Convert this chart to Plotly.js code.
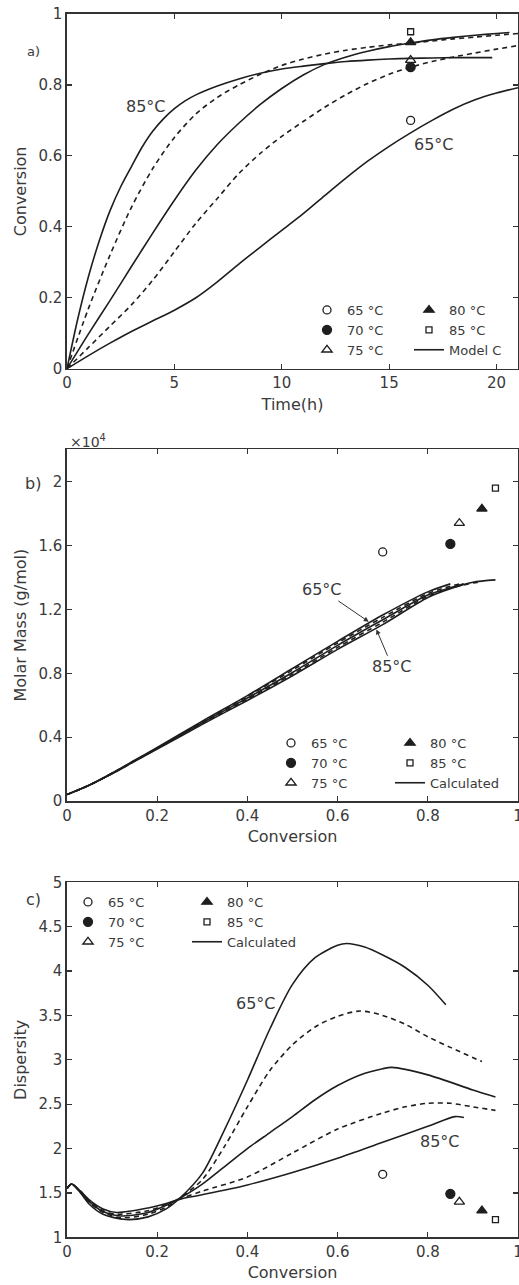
<!DOCTYPE html>
<html>
<head>
<meta charset="utf-8">
<script src="https://cdn.plot.ly/plotly-3.0.1.min.js"></script>
<style>html,body{margin:0;padding:0;background:#fff;}#chart{width:519px;height:1285px;}</style>
</head>
<body>
<div id="chart"></div>
<script>
// ---------- DATA ----------
const temps = ['65 °C', '70 °C', '75 °C', '80 °C', '85 °C'];
const curveTemps = ['65', '70', '75', '80', '85'];

// Panel a: conversion vs time (model C)
const a65_t = [0,1,2,3,4,5,6,7,8,9,10,11,12,13,14,15,16,17,18,19,20,21];
const a65_c = [0,0.037,0.072,0.105,0.135,0.165,0.2,0.245,0.295,0.343,0.39,0.437,0.488,0.538,0.585,0.627,0.665,0.70,0.732,0.758,0.777,0.792];
const a70_t = [0,1,2,3,4,5,6,7,8,9,10,11,12,13,14,15,16,17,18,19,20,21];
const a70_c = [0,0.06,0.12,0.18,0.25,0.33,0.41,0.48,0.55,0.607,0.655,0.697,0.737,0.773,0.804,0.83,0.85,0.866,0.879,0.89,0.901,0.911];
const a75_t = [0,1,2,3,4,5,6,7,8,9,10,11,12,13,14,15,16,17,18,19,20,20.6];
const a75_c = [0,0.098,0.192,0.288,0.383,0.475,0.56,0.632,0.692,0.745,0.79,0.828,0.858,0.879,0.895,0.908,0.918,0.927,0.934,0.94,0.945,0.948];
const a80_t = [0,1,2,3,4,5,6,7,8,9,10,11,12,13,14,15,16,17,18,19,20,21];
const a80_c = [0,0.17,0.32,0.455,0.565,0.652,0.718,0.765,0.80,0.83,0.855,0.873,0.887,0.898,0.906,0.913,0.918,0.924,0.93,0.935,0.94,0.945];
const a85_t = [0,0.5,1,1.5,2,2.5,3,3.5,4,4.5,5,5.5,6,7,8,9,10,11,12,13,14,15,16,17,18,19.8];
const a85_c = [0,0.14,0.26,0.36,0.445,0.513,0.57,0.625,0.67,0.705,0.733,0.755,0.772,0.797,0.817,0.833,0.845,0.853,0.86,0.866,0.87,0.873,0.875,0.876,0.877,0.877];

// Experimental points
const exp_time = [16, 16, 16, 16, 16];
const exp_conv = [0.70, 0.85, 0.87, 0.92, 0.95];
const exp_mm = [1.56, 1.61, 1.74, 1.83, 1.96];      // ×10^4 g/mol
const exp_disp = [1.71, 1.49, 1.40, 1.30, 1.20];

// Panel b: molar mass (×10^4) vs conversion
const b65_x = [0,0.05,0.1,0.15,0.2,0.3,0.4,0.5,0.6,0.7,0.8,0.85];
const b65_m = [0.04,0.1,0.175,0.255,0.335,0.5,0.66,0.83,1.0,1.165,1.31,1.36];
const b70_x = [0,0.05,0.1,0.15,0.2,0.3,0.4,0.5,0.6,0.7,0.8,0.85,0.87];
const b70_m = [0.04,0.1,0.174,0.253,0.332,0.495,0.655,0.82,0.99,1.15,1.30,1.345,1.36];
const b75_x = [0,0.05,0.1,0.15,0.2,0.3,0.4,0.5,0.6,0.7,0.8,0.85,0.88];
const b75_m = [0.04,0.1,0.173,0.251,0.33,0.49,0.645,0.805,0.975,1.135,1.29,1.335,1.36];
const b80_x = [0,0.05,0.1,0.15,0.2,0.3,0.4,0.5,0.6,0.7,0.8,0.85,0.9,0.92];
const b80_m = [0.04,0.1,0.172,0.25,0.328,0.485,0.638,0.795,0.962,1.12,1.282,1.332,1.365,1.372];
const b85_x = [0,0.05,0.1,0.15,0.2,0.3,0.4,0.5,0.6,0.7,0.8,0.85,0.9,0.95];
const b85_m = [0.04,0.1,0.17,0.248,0.325,0.48,0.63,0.785,0.95,1.105,1.275,1.33,1.37,1.385];

// Panel c: dispersity vs conversion
const c65_x = [0,0.01,0.03,0.05,0.08,0.13,0.18,0.22,0.25,0.3,0.35,0.4,0.45,0.5,0.55,0.6,0.62,0.66,0.7,0.75,0.8,0.84];
const c65_d = [1.55,1.6,1.5,1.37,1.26,1.2,1.23,1.32,1.44,1.72,2.22,2.77,3.35,3.85,4.15,4.29,4.31,4.27,4.18,4.04,3.84,3.62];
const c70_x = [0,0.01,0.03,0.05,0.08,0.12,0.18,0.22,0.25,0.3,0.35,0.4,0.45,0.5,0.55,0.6,0.65,0.7,0.75,0.8,0.85,0.92];
const c70_d = [1.55,1.6,1.51,1.39,1.28,1.22,1.26,1.34,1.44,1.65,2.03,2.47,2.88,3.17,3.37,3.49,3.55,3.50,3.40,3.26,3.14,2.98];
const c75_x = [0,0.01,0.03,0.05,0.08,0.12,0.18,0.22,0.25,0.3,0.35,0.4,0.45,0.5,0.55,0.6,0.65,0.7,0.72,0.8,0.9,0.95];
const c75_d = [1.55,1.6,1.51,1.4,1.29,1.24,1.28,1.36,1.44,1.6,1.8,2.0,2.18,2.36,2.55,2.71,2.83,2.9,2.915,2.83,2.66,2.58];
const c80_x = [0,0.01,0.03,0.05,0.08,0.11,0.18,0.22,0.25,0.3,0.4,0.5,0.6,0.7,0.75,0.8,0.85,0.9,0.95];
const c80_d = [1.55,1.6,1.52,1.41,1.3,1.26,1.3,1.37,1.43,1.52,1.68,1.95,2.22,2.40,2.47,2.51,2.51,2.47,2.43];
const c85_x = [0,0.01,0.03,0.05,0.08,0.11,0.18,0.22,0.25,0.3,0.4,0.5,0.6,0.7,0.8,0.86,0.88];
const c85_d = [1.55,1.6,1.52,1.42,1.32,1.28,1.33,1.38,1.43,1.48,1.59,1.73,1.89,2.07,2.25,2.36,2.35];

// ---------- STYLE ----------
const INK = '#1e1e1e';
const TXT = '#3a3a3a';
const FONT = 'DejaVu Sans, sans-serif';
const dashes = ['solid', '5px,4px', 'solid', '5px,4px', 'solid'];
const symbols = ['circle-open', 'circle', 'triangle-up-open', 'triangle-up', 'square-open'];
const msizes = [8, 9, 9, 9, 6];

const traces = [];
function curves(xs, ys, xa, ya, legendName, lineLabel) {
  for (let i = 0; i < 5; i++) {
    traces.push({
      x: xs[i], y: ys[i], xaxis: xa, yaxis: ya, type: 'scatter', mode: 'lines',
      line: {color: INK, width: 1.6, dash: dashes[i], shape: 'spline', smoothing: 0.8},
      name: curveTemps[i], showlegend: false, hoverinfo: 'skip'
    });
  }
  return {x: [null], y: [null], xaxis: xa, yaxis: ya, type: 'scatter', mode: 'lines',
    line: {color: INK, width: 1.6}, name: lineLabel, legend: legendName, showlegend: true};
}
function points(xv, yv, xa, ya, leg1, leg2, lineTrace) {
  for (let i = 0; i < 5; i++) {
    traces.push({
      x: [xv[i]], y: [yv[i]], xaxis: xa, yaxis: ya, type: 'scatter', mode: 'markers',
      marker: {symbol: symbols[i], size: msizes[i], color: INK, line: {color: INK, width: 1.3}},
      name: temps[i], legend: i < 3 ? leg1 : leg2, showlegend: true, cliponaxis: false
    });
  }
  traces.push(lineTrace);
}

const la = curves([a65_t, a70_t, a75_t, a80_t, a85_t], [a65_c, a70_c, a75_c, a80_c, a85_c], 'x', 'y', 'legend2', 'Model C');
points(exp_time, exp_conv, 'x', 'y', 'legend', 'legend2', la);
const lb = curves([b65_x, b70_x, b75_x, b80_x, b85_x], [b65_m, b70_m, b75_m, b80_m, b85_m], 'x2', 'y2', 'legend4', 'Calculated');
points(exp_conv, exp_mm, 'x2', 'y2', 'legend3', 'legend4', lb);
const lc = curves([c65_x, c70_x, c75_x, c80_x, c85_x], [c65_d, c70_d, c75_d, c80_d, c85_d], 'x3', 'y3', 'legend6', 'Calculated');
points(exp_conv, exp_disp, 'x3', 'y3', 'legend5', 'legend6', lc);

const H = 1285;
function dom(topPx, botPx) { return [1 - botPx / H, 1 - topPx / H]; }
function axisBase(extra) {
  return Object.assign({
    showline: true, linecolor: '#333', linewidth: 1.6, mirror: 'ticks',
    ticks: 'inside', ticklen: 5, tickwidth: 1.2, tickcolor: '#333',
    showgrid: false, zeroline: false, automargin: false, ticklabeloverflow: 'allow',
    tickfont: {family: FONT, size: 15, color: TXT}
  }, extra);
}
function ttl(text, standoff) { return {text: text, font: {family: FONT, size: 16, color: TXT}, standoff: standoff}; }
function leg(xPx, topPx) {
  return {x: (xPx - 67) / 451, y: 1 - topPx / H, xanchor: 'left', yanchor: 'top',
    bgcolor: 'rgba(0,0,0,0)', borderwidth: 0, font: {family: FONT, size: 13, color: TXT},
    tracegroupgap: 0, itemclick: false};
}
function lab(text, x, y, xref, yref, size) {
  return {text: text, x: x, y: y, xref: xref, yref: yref, showarrow: false,
    xanchor: 'center', yanchor: 'middle',
    font: {family: FONT, size: size || 16, color: TXT}};
}

const layout = {
  width: 519, height: 1285,
  margin: {l: 67, r: 1, t: 0, b: 0},
  paper_bgcolor: '#fff', plot_bgcolor: '#fff',
  font: {family: FONT, color: TXT},
  showlegend: true,
  xaxis: axisBase({domain: [0, 1], range: [0, 21], dtick: 5, anchor: 'y', title: ttl('Time(h)', 7)}),
  yaxis: axisBase({domain: dom(14, 368.7), range: [0, 1], dtick: 0.2, anchor: 'x', title: ttl('Conversion', 8)}),
  xaxis2: axisBase({domain: [0, 1], range: [0, 1], dtick: 0.2, anchor: 'y2', title: ttl('Conversion', 7)}),
  yaxis2: axisBase({domain: dom(449.3, 801), range: [0, 2.203], dtick: 0.4, anchor: 'x2', title: ttl('Molar Mass (g/mol)', 8)}),
  xaxis3: axisBase({domain: [0, 1], range: [0, 1], dtick: 0.2, anchor: 'y3', title: ttl('Conversion', 7)}),
  yaxis3: axisBase({domain: dom(882.3, 1237.3), range: [1, 5], dtick: 0.5, anchor: 'x3', title: ttl('Dispersity', 8)}),
  legend: leg(307, 295),
  legend2: leg(409, 295),
  legend3: leg(271, 728),
  legend4: leg(390, 728),
  legend5: leg(68, 887),
  legend6: leg(187, 887),
  annotations: [
    lab('a)', (33 - 67) / 451, 1 - 52 / H, 'paper', 'paper', 13),
    lab('85°C', 3.66, 0.738, 'x', 'y'),
    lab('65°C', 17.07, 0.631, 'x', 'y'),
    lab('b)', (33 - 67) / 451, 1 - 483 / H, 'paper', 'paper', 16),
    Object.assign(lab('×10<sup>4</sup>', 0.002, 1 - 441 / H, 'paper', 'paper', 14), {xanchor: 'left'}),
    {text: '65°C', x: 0.669, y: 1.123, xref: 'x2', yref: 'y2', ax: 0.566, ay: 1.322, axref: 'x2', ayref: 'y2',
      showarrow: true, arrowhead: 2, arrowsize: 1, arrowwidth: 1, arrowcolor: '#333',
      font: {family: FONT, size: 16, color: TXT}},
    {text: '85°C', x: 0.686, y: 1.075, xref: 'x2', yref: 'y2', ax: 0.721, ay: 0.841, axref: 'x2', ayref: 'y2',
      showarrow: true, arrowhead: 2, arrowsize: 1, arrowwidth: 1, arrowcolor: '#333',
      font: {family: FONT, size: 16, color: TXT}},
    lab('c)', (33 - 67) / 451, 1 - 900 / H, 'paper', 'paper', 16),
    lab('65°C', 0.418, 3.637, 'x3', 'y3'),
    lab('85°C', 0.826, 2.077, 'x3', 'y3')
  ]
};

Plotly.newPlot('chart', traces, layout, {displayModeBar: false, staticPlot: true});
</script>
</body>
</html>
